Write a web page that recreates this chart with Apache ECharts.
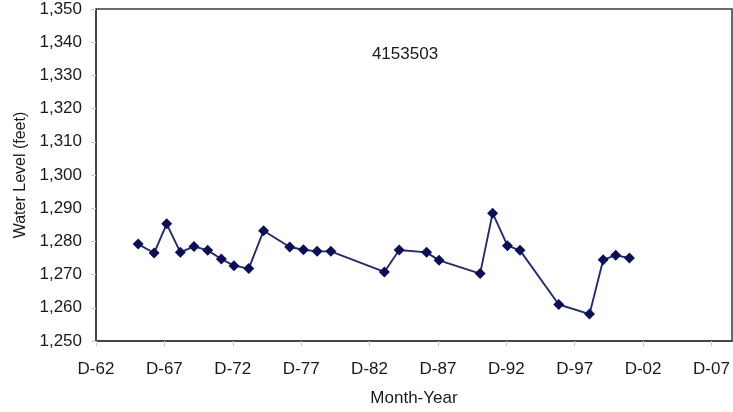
<!DOCTYPE html>
<html>
<head>
<meta charset="utf-8">
<script src="https://cdn.jsdelivr.net/npm/echarts@6/dist/echarts.min.js"></script>
<style>
  html, body { margin: 0; padding: 0; background: #fff; }
  #chart { width: 733px; height: 412px; }
</style>
</head>
<body>
<div id="chart"></div>
<script>
// Well 4153503 water-level measurements (year-month, feet)
const sampleDates = [
  '1966-01', '1967-03', '1968-02', '1969-02', '1970-02', '1971-02', '1972-02',
  '1973-01', '1974-02', '1975-03', '1977-02', '1978-02', '1979-02', '1980-02',
  '1984-01', '1985-02', '1987-02', '1988-01', '1991-01', '1991-12', '1993-01',
  '1993-12', '1996-10', '1999-01', '2000-01', '2000-12', '2001-12'
];
const waterLevels = [
  1279.2, 1276.5, 1285.3, 1276.7, 1278.5, 1277.3, 1274.7,
  1272.7, 1271.8, 1283.2, 1278.3, 1277.5, 1277.0, 1277.0,
  1270.8, 1277.4, 1276.7, 1274.3, 1270.3, 1288.5, 1278.7,
  1277.3, 1261.0, 1258.1, 1274.5, 1275.8, 1275.0
];
const wellId = '4153503';

// Horizontal axis counts months from December 1962; ticks every 5 years.
const baseYear = 1962, baseMonth = 12;
function monthsFromBase(ym) {
  const [y, m] = ym.split('-').map(Number);
  return (y - baseYear) * 12 + (m - baseMonth);
}
function tickLabel(v) {
  if (v % 60 !== 0) return '';
  const totalMonths = v + baseMonth - 1;
  const year = baseYear + Math.floor(totalMonths / 12);
  return 'D-' + String(year % 100).padStart(2, '0');
}

const seriesData = sampleDates.map((d, i) => [monthsFromBase(d), waterLevels[i]]);

const font = 'Liberation Sans, Arial, sans-serif';
const chart = echarts.init(document.getElementById('chart'), null, { renderer: 'canvas' });
chart.setOption({
  animation: false,
  backgroundColor: '#ffffff',
  title: {
    text: wellId,
    left: 400, top: 41, textAlign: 'center',
    textStyle: { fontFamily: font, fontSize: 17, fontWeight: 'normal', color: '#1a1a1a' }
  },
  grid: {
    left: 96, top: 9, right: 1, bottom: 70,
    show: true, borderColor: '#3a3a3a', borderWidth: 1.5, backgroundColor: '#fff'
  },
  xAxis: {
    type: 'value',
    min: 0, max: 558, interval: 60,
    name: 'Month-Year', nameLocation: 'middle', nameGap: 49,
    nameTextStyle: { fontFamily: font, fontSize: 17, color: '#1a1a1a' },
    axisLine: { show: true, lineStyle: { color: '#3a3a3a', width: 1.5 } },
    axisTick: { show: true, length: 5, lineStyle: { color: '#c8c8c8' } },
    axisLabel: { formatter: tickLabel, margin: 20, fontFamily: font, fontSize: 17, color: '#1a1a1a', showMaxLabel: false },
    splitLine: { show: false }
  },
  yAxis: {
    type: 'value',
    min: 1250, max: 1350, interval: 10,
    name: 'Water Level (feet)', nameLocation: 'middle', nameGap: 67, nameRotate: 90,
    nameTextStyle: { fontFamily: font, fontSize: 16, color: '#1a1a1a' },
    axisLine: { show: true, lineStyle: { color: '#3a3a3a', width: 1.5 } },
    axisTick: { show: true, length: 5, lineStyle: { color: '#c8c8c8' } },
    axisLabel: {
      margin: 14, fontFamily: font, fontSize: 17, color: '#1a1a1a',
      formatter: v => v.toLocaleString('en-US')
    },
    splitLine: { show: false }
  },
  series: [{
    type: 'line',
    data: seriesData,
    symbol: 'diamond',
    symbolSize: 11,
    itemStyle: { color: '#0b0f5a' },
    lineStyle: { color: '#232a6e', width: 1.9 },
    z: 3
  }]
});
</script>
</body>
</html>
